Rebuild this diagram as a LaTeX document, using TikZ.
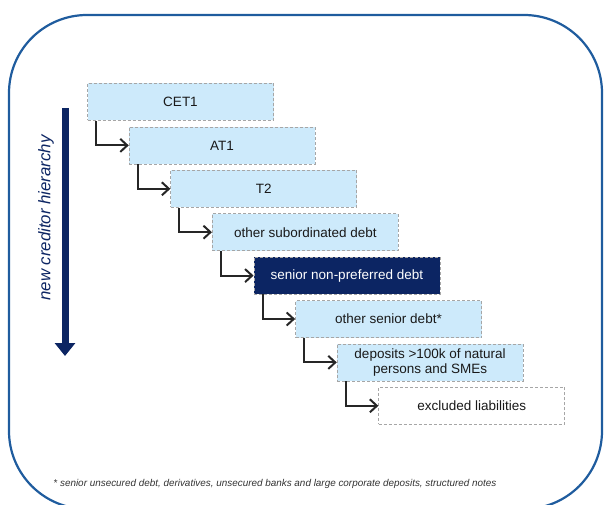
\documentclass[tikz,border=0pt]{standalone}
\usepackage{fontspec}
\setsansfont{Liberation Sans}
\usepackage{tikz}
\usepackage{xcolor}
\usetikzlibrary{positioning,shapes,arrows.meta}

\definecolor{boxblue}{HTML}{CDEAFB}
\definecolor{navy}{HTML}{0C2563}
\definecolor{frameblue}{HTML}{1F5C9E}

\begin{document}
\begin{tikzpicture}[x=1pt,y=-1pt,
    rank/.style={draw=gray!70,densely dashed,line width=0.7pt,fill=boxblue,
      shape=rectangle,minimum width=186pt,minimum height=37pt,inner sep=1pt,
      align=center,font=\sffamily\fontsize{13.5}{15}\selectfont,text=black!90},
    senior/.style={rank,fill=navy,text=white},
    excluded/.style={rank,fill=white},
    elbow/.style={line width=2pt,black!85,-{Straight Barb[length=7pt,width=13pt]}}]
\clip (0,0) rectangle (607,505);
\draw[frameblue,line width=2.2pt,rounded corners=78pt] (9,15) rectangle (602,509);

      % hierarchy arrow
      \coordinate (top) at (65,108);
      \coordinate (bot) at (65,356);
      \draw[navy,line width=7pt,-{Triangle[length=13pt,width=20pt]}] (top) -- (bot);
      \draw node (label) at (46,218) [rotate=90,text=navy,
        font=\sffamily\itshape\fontsize{16.8}{18}\selectfont]{new creditor hierarchy};

      \draw node (cet) at (180.5,102) [rank]{CET1};
\draw node (at1) at (222.1,145.4) [rank]{AT1};
\draw node (t2) at (263.7,188.8) [rank]{T2};
\draw node (osub) at (305.3,232.2) [rank]{other subordinated debt};
\draw node (snp) at (346.9,275.6) [senior]{senior non-preferred debt};
\draw node (osen) at (388.5,319) [rank]{other senior debt*};
\draw node (dep) at (430.1,362.4) [rank]{deposits >100k of natural\\persons and SMEs};
\draw node (excl) at (471.7,405.8) [excluded]{excluded liabilities};
\draw[elbow] ([xshift=9pt]cet.south west) |- (at1.west);
\draw[elbow] ([xshift=9pt]at1.south west) |- (t2.west);
\draw[elbow] ([xshift=9pt]t2.south west) |- (osub.west);
\draw[elbow] ([xshift=9pt]osub.south west) |- (snp.west);
\draw[elbow] ([xshift=9pt]snp.south west) |- (osen.west);
\draw[elbow] ([xshift=9pt]osen.south west) |- (dep.west);
\draw[elbow] ([xshift=9pt]dep.south west) |- (excl.west);

      \draw node (note) at (275,484) [text=black!80,
        font=\sffamily\itshape\fontsize{9.9}{11}\selectfont]
        {* senior unsecured debt, derivatives, unsecured banks and large corporate deposits, structured notes};
\end{tikzpicture}
\end{document}
